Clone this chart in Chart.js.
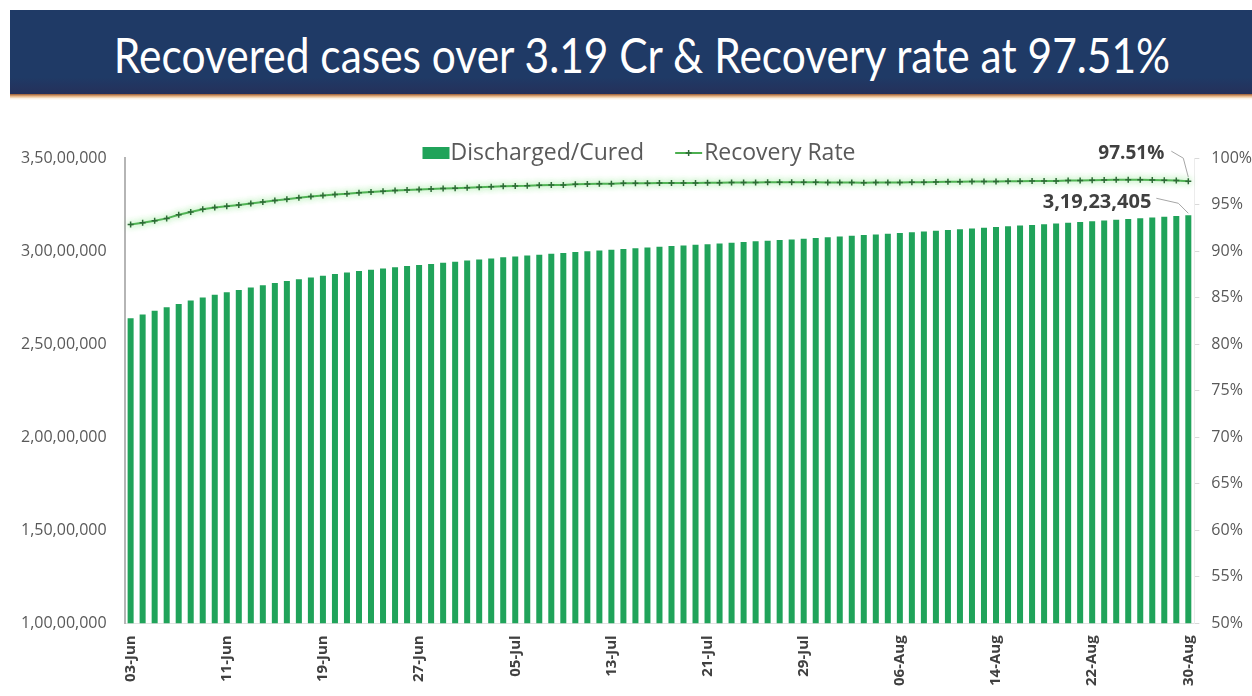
<!DOCTYPE html>
<html>
<head>
<meta charset="utf-8">
<script src="https://cdn.jsdelivr.net/npm/chart.js@4.4.1/dist/chart.umd.min.js"></script>
<style>
  html, body { margin: 0; padding: 0; background: #fff; }
  body { width: 1252px; height: 696px; position: relative; overflow: hidden; }
  #banner {
    position: absolute; left: 10px; top: 10px; width: 1242px; height: 84px;
    background: linear-gradient(#1f3a66 0%, #1f3a66 80%, #25305a 100%);
    overflow: hidden;
  }
  #banner span {
    position: absolute; left: 22px; right: 0; top: 19px; text-align: center;
    color: #fff; font-family: Lato, "Open Sans", sans-serif; font-size: 48px;
    line-height: 52px; transform: scaleX(0.885); white-space: nowrap;
  }
  #shadow {
    position: absolute; left: 10px; top: 94px; width: 1242px; height: 6px;
    background: linear-gradient(#9a5b33 0%, #e8b88a 40%, #fbf1e4 75%, #ffffff 100%);
  }
  #wrap { position: absolute; left: 0; top: 130px; width: 1252px; height: 566px; }
</style>
</head>
<body>
<div id="banner"><span>Recovered cases over 3.19 Cr &amp; Recovery rate at 97.51%</span></div>
<div id="shadow"></div>
<div id="wrap"><canvas id="recoveryChart"></canvas></div>
<script>
// dates shown on the x axis (one bar per day)
const days = [
  "03-Jun", "04-Jun", "05-Jun", "06-Jun", "07-Jun", "08-Jun", "09-Jun", "10-Jun",
  "11-Jun", "12-Jun", "13-Jun", "14-Jun", "15-Jun", "16-Jun", "17-Jun", "18-Jun",
  "19-Jun", "20-Jun", "21-Jun", "22-Jun", "23-Jun", "24-Jun", "25-Jun", "26-Jun",
  "27-Jun", "28-Jun", "29-Jun", "30-Jun",
  "01-Jul", "02-Jul", "03-Jul", "04-Jul", "05-Jul", "06-Jul", "07-Jul", "08-Jul",
  "09-Jul", "10-Jul", "11-Jul", "12-Jul", "13-Jul", "14-Jul", "15-Jul", "16-Jul",
  "17-Jul", "18-Jul", "19-Jul", "20-Jul", "21-Jul", "22-Jul", "23-Jul", "24-Jul",
  "25-Jul", "26-Jul", "27-Jul", "28-Jul", "29-Jul", "30-Jul", "31-Jul",
  "01-Aug", "02-Aug", "03-Aug", "04-Aug", "05-Aug", "06-Aug", "07-Aug", "08-Aug",
  "09-Aug", "10-Aug", "11-Aug", "12-Aug", "13-Aug", "14-Aug", "15-Aug", "16-Aug",
  "17-Aug", "18-Aug", "19-Aug", "20-Aug", "21-Aug", "22-Aug", "23-Aug", "24-Aug",
  "25-Aug", "26-Aug", "27-Aug", "28-Aug", "29-Aug", "30-Aug",
];

// Discharged/Cured (cumulative)
const cured = [
  26390584, 26597655, 26795549, 26984781, 27159180, 27341462, 27504126, 27655493,
  27790073, 27911384, 28043446, 28162947, 28280472, 28388100, 28491670, 28580647,
  28678390, 28766009, 28844199, 28926038, 28994855, 29063740, 29128267, 29193085,
  29251029, 29309607, 29366601, 29427330,
  29488918, 29548302, 29605779, 29663034, 29711630, 29758001, 29803179, 29852140,
  29899510, 29945617, 29988104, 30030123, 30074321, 30114147, 30152982, 30191542,
  30229218, 30269796, 30303743, 30339121, 30372453, 30410030, 30446276, 30487101,
  30521134, 30558000, 30594220, 30627436, 30663005, 30700230, 30743972,
  30782421, 30820521, 30860092, 30896225, 30935006, 30974748, 31015844, 31055861,
  31094414, 31133829, 31170620, 31210222, 31249889, 31290129, 31329424, 31368049,
  31402364, 31436125, 31477238, 31527310, 31566128, 31604874, 31641490, 31678926,
  31716617, 31756833, 31799112, 31840541, 31882157, 31923405,
];

// Recovery Rate (%)
const recoveryRate = [
  92.86, 93.04, 93.25, 93.51, 93.90, 94.19, 94.50, 94.67, 94.82, 94.96, 95.10, 95.26,
  95.43, 95.56, 95.73, 95.86, 95.98, 96.09, 96.16, 96.26, 96.35, 96.44, 96.52, 96.56,
  96.61, 96.66, 96.72, 96.75,
  96.80, 96.87, 96.92, 96.97, 96.99, 97.01, 97.06, 97.09, 97.11, 97.17, 97.20, 97.22,
  97.22, 97.28, 97.28, 97.29, 97.31, 97.31, 97.31, 97.32, 97.33, 97.35, 97.36, 97.37,
  97.37, 97.39, 97.39, 97.39, 97.40, 97.39, 97.38,
  97.37, 97.36, 97.35, 97.36, 97.37, 97.38, 97.39, 97.40, 97.42, 97.45, 97.46, 97.48,
  97.48, 97.48, 97.49, 97.51, 97.52, 97.52, 97.54, 97.57, 97.58, 97.60, 97.63, 97.65,
  97.67, 97.66, 97.64, 97.60, 97.57, 97.51,
];

// axis ticks
const leftTicks = [10000000, 15000000, 20000000, 25000000, 30000000, 35000000];
const rightTicks = [50, 55, 60, 65, 70, 75, 80, 85, 90, 95, 100];

const BAR_GREEN = "#20a35a";
const LINE_GREEN = "#4caf50";
const MARK_GREEN = "#2d6a36";

// indian digit grouping: 3,19,23,405
function inr(n) {
  var s = Math.round(n).toString();
  var last3 = s.slice(-3);
  var rest = s.slice(0, -3);
  if (rest) last3 = "," + last3;
  rest = rest.replace(/\B(?=(\d{2})+(?!\d))/g, ",");
  return rest + last3;
}

// soft halo round the recovery-rate line
const glow = {
  id: "glow",
  beforeDatasetDraw(chart, args) {
    if (args.index !== 1) return;
    chart.ctx.save();
    chart.ctx.shadowColor = "rgba(140, 230, 140, 0.9)";
    chart.ctx.shadowBlur = 6;
  },
  afterDatasetDraw(chart, args) {
    if (args.index !== 1) return;
    chart.ctx.restore();
  },
};

// legend drawn over the top of the plot, excel style
const topLegend = {
  id: "topLegend",
  afterDraw(chart) {
    const ctx = chart.ctx;
    const sets = chart.data.datasets;
    ctx.save();
    ctx.font = "23px 'Open Sans'";
    ctx.textBaseline = "middle";
    ctx.textAlign = "left";
    const w0 = 27 + 1 + ctx.measureText(sets[0].label).width;
    const w1 = 27 + 2 + ctx.measureText(sets[1].label).width;
    let x = chart.width / 2 + 13 - (w0 + 31 + w1) / 2;
    const y = chart.chartArea.top - 5;
    // bar item
    ctx.fillStyle = BAR_GREEN;
    ctx.fillRect(x, y - 6, 27, 12);
    ctx.fillStyle = "#595959";
    ctx.fillText(sets[0].label, x + 28, y);
    x += w0 + 31;
    // line item
    ctx.strokeStyle = LINE_GREEN;
    ctx.lineWidth = 2;
    ctx.beginPath();
    ctx.moveTo(x, y);
    ctx.lineTo(x + 27, y);
    ctx.stroke();
    ctx.strokeStyle = MARK_GREEN;
    ctx.lineWidth = 1.5;
    ctx.beginPath();
    ctx.moveTo(x + 10.5, y);
    ctx.lineTo(x + 16.5, y);
    ctx.moveTo(x + 13.5, y - 3);
    ctx.lineTo(x + 13.5, y + 3);
    ctx.stroke();
    ctx.fillText(sets[1].label, x + 29, y);
    ctx.restore();
  },
};

// callouts for the last day
const lastLabels = {
  id: "lastLabels",
  afterDatasetsDraw(chart) {
    const ctx = chart.ctx;
    const last = days.length - 1;
    const bar = chart.getDatasetMeta(0).data[last];
    const pt = chart.getDatasetMeta(1).data[last];
    ctx.save();
    ctx.strokeStyle = "#a6a6a6";
    ctx.lineWidth = 1;
    ctx.beginPath();
    ctx.moveTo(pt.x - 17, pt.y - 30);
    ctx.lineTo(pt.x - 5, pt.y - 23);
    ctx.lineTo(pt.x, pt.y - 4);
    ctx.stroke();
    ctx.beginPath();
    ctx.moveTo(bar.x - 32, bar.y - 17);
    ctx.lineTo(bar.x - 10, bar.y - 12);
    ctx.lineTo(bar.x, bar.y - 2);
    ctx.stroke();
    ctx.fillStyle = "#404040";
    ctx.textAlign = "right";
    ctx.textBaseline = "alphabetic";
    ctx.font = "bold 19px 'Open Sans'";
    ctx.fillText(recoveryRate[last].toFixed(2) + "%", pt.x - 24, pt.y - 22);
    ctx.font = "bold 20px 'Open Sans'";
    ctx.fillText(inr(cured[last]), bar.x - 37, bar.y - 7);
    ctx.restore();
  },
};

function recovery_chart() {
  var ctx = document.getElementById("recoveryChart").getContext("2d");

  const dataMIX = {
    labels: days,
    datasets: [
      {
        // BARS
        type: "bar",
        label: "Discharged/Cured",
        data: cured,
        yAxisID: "y",
        backgroundColor: BAR_GREEN,
        barPercentage: 0.5,
        categoryPercentage: 1,
      },
      {
        // LINE
        type: "line",
        label: "Recovery Rate",
        data: recoveryRate,
        yAxisID: "y1",
        borderColor: LINE_GREEN,
        borderWidth: 2,
        tension: 0,
        pointStyle: "cross",
        pointRadius: 3,
        pointBorderColor: MARK_GREEN,
        pointBorderWidth: 1.5,
      },
    ],
  };

  const settingsMIX = {
    responsive: true,
    maintainAspectRatio: false,
    animation: false,
    layout: { padding: { left: 11, right: -12, top: 28, bottom: 6 } },
    plugins: {
      tooltip: { enabled: false },
      legend: { display: false },
    },
    scales: {
      x: {
        grid: { display: false },
        border: { display: true, color: "#e3e3e3", dash: [2, 2] },
        ticks: {
          autoSkip: false,
          maxRotation: 90,
          minRotation: 90,
          padding: 4,
          color: "#404040",
          font: { size: 15, weight: "bold", family: "'Open Sans'" },
          callback: function (value, index) {
            return index % 8 === 0 ? days[index] : "";
          },
        },
      },
      y: {
        position: "left",
        min: leftTicks[0],
        max: leftTicks[leftTicks.length - 1],
        grid: { display: false },
        border: { display: true, color: "#b5b5b5", width: 2 },
        afterBuildTicks: function (axis) {
          axis.ticks = leftTicks.map(function (v) { return { value: v }; });
        },
        ticks: {
          padding: 10,
          color: "#595959",
          font: { size: 16, family: "'Open Sans'" },
          callback: function (value) {
            return inr(value);
          },
        },
      },
      y1: {
        position: "right",
        min: rightTicks[0],
        max: rightTicks[rightTicks.length - 1],
        grid: { display: true, drawOnChartArea: false, tickLength: 5, color: "#d9d9d9" },
        border: { display: true, color: "#ececec" },
        afterBuildTicks: function (axis) {
          axis.ticks = rightTicks.map(function (v) { return { value: v }; });
        },
        ticks: {
          padding: 12,
          color: "#595959",
          font: { size: 16, family: "'Open Sans'" },
          callback: function (value) {
            return value + "%";
          },
        },
      },
    },
  };

  new Chart(ctx, {
    type: "bar",
    data: dataMIX,
    options: settingsMIX,
    plugins: [glow, topLegend, lastLabels],
  });
}

recovery_chart();
</script>
</body>
</html>
